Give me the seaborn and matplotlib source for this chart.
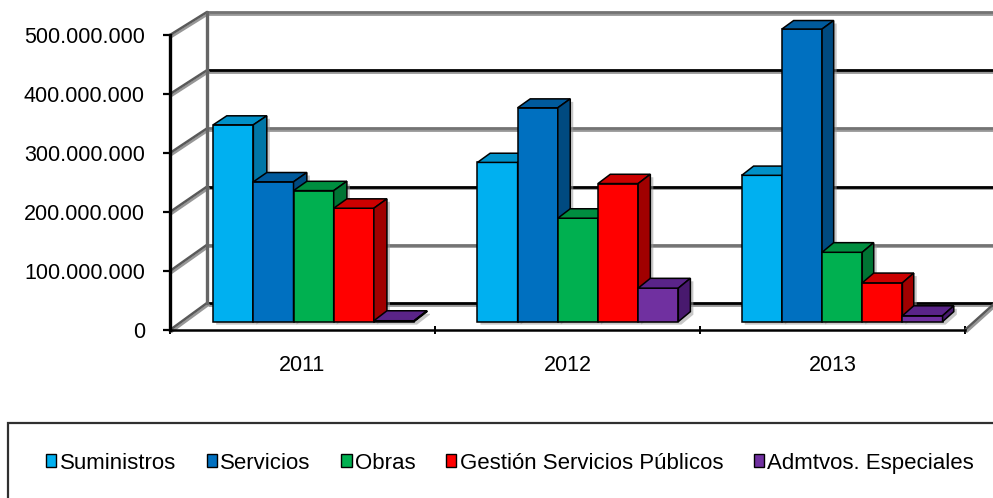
import numpy as np
import pandas as pd
import matplotlib
matplotlib.use("Agg")
import matplotlib.pyplot as plt
import matplotlib.patheffects as pe
from matplotlib.patches import Polygon, Rectangle, Patch
from matplotlib.transforms import ScaledTranslation
from matplotlib.ticker import FuncFormatter, FixedLocator
import seaborn as sns

# ---- data -------------------------------------------------------------
years = ["2011", "2012", "2013"]
types = ["Suministros", "Servicios", "Obras",
         "Gestión Servicios Públicos", "Admtvos. Especiales"]
suministros = [335e6, 271e6, 249e6]
servicios = [238e6, 364e6, 498e6]
obras = [223e6, 176e6, 118e6]
gestion = [193e6, 235e6, 66e6]
admtvos = [1.5e6, 57e6, 10e6]
y_ticks = [0, 100e6, 200e6, 300e6, 400e6, 500e6]

front_colors = ["#00B0F0", "#0070C0", "#00B050", "#FF0000", "#7030A0"]
top_colors = ["#0090C8", "#005A9C", "#008E40", "#CC0000", "#5A2488"]
side_colors = ["#0076A6", "#004A80", "#007434", "#A00000", "#48196E"]

series = [suministros, servicios, obras, gestion, admtvos]
df = pd.DataFrame({
    "year": np.repeat([years], len(types), axis=0).ravel(),
    "type": np.repeat(types, len(years)),
    "value": np.concatenate(series),
})

# ---- figure -----------------------------------------------------------
sns.set_theme(style="white")
plt.rcParams["font.family"] = ["Liberation Sans", "DejaVu Sans"]
plt.rcParams["text.color"] = "black"

W, H = 993, 498
fig = plt.figure(figsize=(W / 100, H / 100), dpi=100)
# front plane of the 3-D box
ax = fig.add_axes([170 / W, (H - 330) / H, 795 / W, 295 / H])

PX_X = 795 / 3.0          # pixels per category unit
PX_V = 295 / 500e6        # pixels per value unit


def proj(x, v, d):
    """Oblique projection of a point at depth d (0 = front, 1 = back wall)."""
    dx_px = 37 - 7 * (x + 0.5) / 3.0
    dy_px = 27 - 4 * v / 500e6
    return (x + d * dx_px / PX_X, v + d * dy_px / PX_V)


sns.barplot(data=df, x="year", y="value", hue="type", hue_order=types,
            order=years, palette=front_colors, saturation=1, width=0.76,
            edgecolor="black", linewidth=1.1, legend=False, ax=ax)

ax.set_xlim(-0.5, 2.5)
ax.set_ylim(0, 500e6)

# ---- walls and gridlines ---------------------------------------------
shadow = [pe.SimpleLineShadow(offset=(1.2, -1.2), shadow_color="0.55", alpha=0.9),
          pe.Normal()]
for i, v in enumerate(y_ticks):
    col = "black" if i % 2 == 0 else "0.45"
    if v == 500e6:
        col = "0.45"
    p0 = proj(-0.5, v, 1)
    p1 = proj(2.5, v, 1)
    ax.plot([p0[0], p1[0]], [p0[1], p1[1]], color=col, lw=2.0,
            clip_on=False, zorder=1, path_effects=shadow)
    q0 = proj(-0.5, v, 0)
    ax.plot([q0[0], p0[0]], [q0[1], p0[1]], color="0.35", lw=1.8,
            clip_on=False, zorder=1, path_effects=shadow)

# back-left vertical edge
b0 = proj(-0.5, 0, 1)
b1 = proj(-0.5, 500e6, 1)
ax.plot([b0[0], b1[0]], [b0[1], b1[1]], color="0.4", lw=2.4,
        clip_on=False, zorder=1)
# right floor edge
r0 = proj(2.5, 0, 0)
r1 = proj(2.5, 0, 1)
ax.plot([r0[0], r1[0]], [r0[1], r1[1]], color="0.35", lw=1.8,
        clip_on=False, zorder=1, path_effects=shadow)

# ---- 3-D bars -----------------------------------------------------------
F0, F1 = 0.31, 0.68
bars = sorted(ax.patches, key=lambda p: p.get_x())
color_of = {c: k for k, c in enumerate(front_colors)}
z = 3
for bar in bars:
    x0 = bar.get_x()
    x1 = x0 + bar.get_width()
    h = bar.get_height()
    fc = matplotlib.colors.to_hex(bar.get_facecolor()).upper()
    k = color_of.get(fc, 0)

    fx0, fy0 = proj(x0, 0, F0)
    fx1, fy1 = proj(x1, h, F0)
    bar.set_x(fx0)
    bar.set_y(fy0)
    bar.set_width(fx1 - fx0)
    bar.set_height(fy1 - fy0)
    bar.set_clip_on(False)
    bar.set_zorder(z + 1)

    top = [proj(x0, h, F0), proj(x1, h, F0), proj(x1, h, F1), proj(x0, h, F1)]
    side = [proj(x1, 0, F0), proj(x1, h, F0), proj(x1, h, F1), proj(x1, 0, F1)]
    outline = [proj(x0, 0, F0), proj(x1, 0, F0), proj(x1, 0, F1),
               proj(x1, h, F1), proj(x0, h, F1), proj(x0, h, F0)]

    sh = Polygon(outline, closed=True, facecolor="0.6", edgecolor="none",
                 alpha=0.55, clip_on=False, zorder=2,
                 transform=ax.transData + ScaledTranslation(0.03, -0.03, fig.dpi_scale_trans))
    ax.add_patch(sh)
    ax.add_patch(Polygon(top, closed=True, facecolor=top_colors[k],
                         edgecolor="black", lw=1.1, clip_on=False, zorder=z + 2))
    ax.add_patch(Polygon(side, closed=True, facecolor=side_colors[k],
                         edgecolor="black", lw=1.1, clip_on=False, zorder=z + 2))
    z += 3

# ---- axes styling -------------------------------------------------------
for s in ["top", "right"]:
    ax.spines[s].set_visible(False)
ax.spines["left"].set_linewidth(2.4)
ax.spines["left"].set_color("black")
ax.spines["bottom"].set_linewidth(1.8)
ax.spines["bottom"].set_color("black")
ax.spines["left"].set_zorder(60)
ax.spines["bottom"].set_zorder(60)

ax.yaxis.set_major_locator(FixedLocator(y_ticks))
ax.yaxis.set_major_formatter(
    FuncFormatter(lambda v, _: f"{int(round(v)):,}".replace(",", ".")))
ax.tick_params(axis="y", which="major", direction="out", length=5, width=1.6,
               color="black", pad=13, labelsize=15.5, labelcolor="black", left=True)

ax.xaxis.set_major_locator(FixedLocator([-0.5, 0.5, 1.5, 2.5]))
ax.xaxis.set_minor_locator(FixedLocator([0, 1, 2]))
ax.set_xticklabels([], minor=False)
ax.set_xticklabels(years, minor=True)
ax.tick_params(axis="x", which="major", direction="inout", length=6, width=1.4,
               color="black", bottom=True)
ax.tick_params(axis="x", which="minor", length=0, pad=18, labelsize=15.5,
               labelcolor="black", bottom=True)
ax.set_xlabel("")
ax.set_ylabel("")
ax.grid(False)
ax.patch.set_alpha(0)

# ---- legend ---------------------------------------------------------------
fig.patches.append(Rectangle((8 / W, -0.05), 1.0, (H - 423) / H + 0.05,
                             transform=fig.transFigure, facecolor="white",
                             edgecolor="#303030", lw=1.6, zorder=0))
handles = [Patch(facecolor=c, edgecolor="black", lw=1.0) for c in front_colors]
fig.legend(handles, types, loc="center", bbox_to_anchor=(510 / W, 1 - 463 / H),
           ncol=5, frameon=False, fontsize=16, handlelength=0.47,
           handleheight=0.47, handletextpad=0.14, columnspacing=1.38,
           borderpad=0, labelcolor="black")

fig.savefig("out.png", dpi=100)
